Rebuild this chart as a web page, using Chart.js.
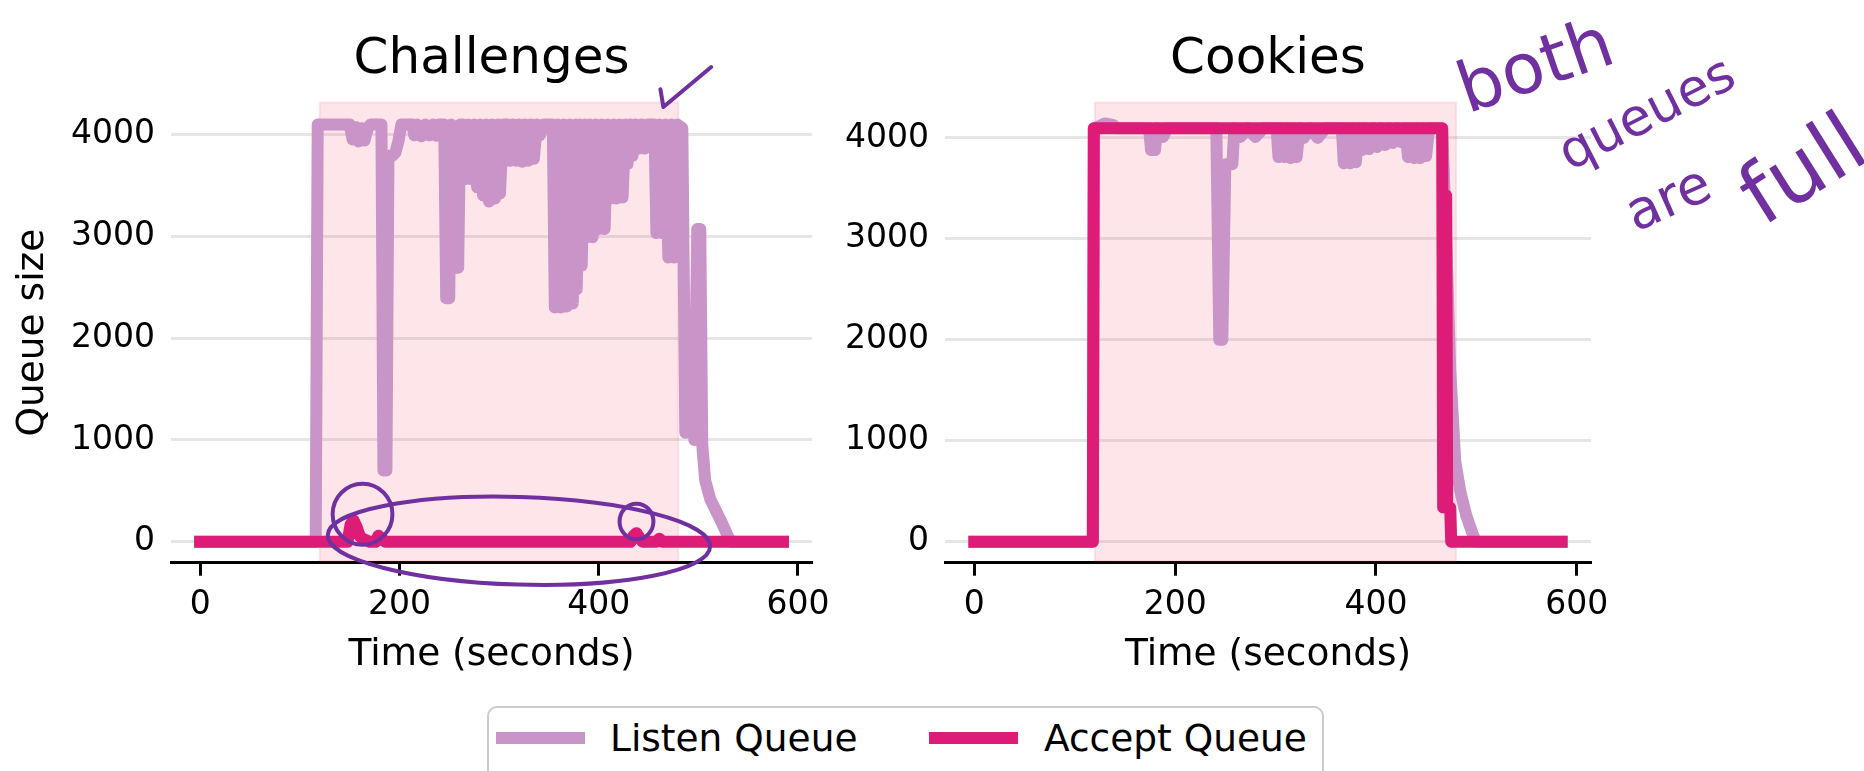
<!DOCTYPE html>
<html>
<head>
<meta charset="utf-8">
<script src="https://cdn.jsdelivr.net/npm/chart.js@4.4.1/dist/chart.umd.min.js"></script>
<style>
  html, body { margin: 0; padding: 0; background: #fff; overflow: hidden; }
  body { width: 1864px; height: 771px; position: relative; font-family: "DejaVu Sans", sans-serif; }
  canvas { position: absolute; top: 0; }
  #challenges { left: 0; }
  #cookies { left: 840px; }
  #legend { position: absolute; left: 487px; top: 706px; width: 833px; height: 100px;
            border: 2px solid #cccccc; border-radius: 10px; background: #fff; }
  .handle { position: absolute; top: 23.5px; height: 12px; }
  .label { position: absolute; top: 8px; font-size: 37.5px; line-height: 44px; color: #000; white-space: nowrap; }
  .ink { position: absolute; color: #7030a0; font-weight: 400; white-space: nowrap; line-height: 1; }
</style>
</head>
<body>
<canvas id="challenges" width="840" height="700"></canvas>
<canvas id="cookies" width="1024" height="700"></canvas>
<div id="legend"></div>

<div class="ink" style="left:1535px;top:65px;font-size:70px;transform:translate(-50%,-50%) rotate(-19deg)">both</div>
<div class="ink" style="left:1646px;top:112px;font-size:52px;transform:translate(-50%,-50%) rotate(-27deg)">queues</div>
<div class="ink" style="left:1668px;top:198px;font-size:54px;transform:translate(-50%,-50%) rotate(-24deg)">are</div>
<div class="ink" style="left:1802px;top:168px;font-size:84px;transform:translate(-50%,-50%) rotate(-32deg)">full</div>

<script>
const seriesLabels = ["Listen Queue", "Accept Queue"];
const seriesColors = ["#c994c7", "#dd1c77"];
const panelTitles = ["Challenges", "Cookies"];
const xTicks = [0, 200, 400, 600];
const yTicks = [0, 1000, 2000, 3000, 4000];
const attackWindow = [120, 480];

// [time, queue size]
const challengesListen = [
  [0,0],[116,0],[118,4096],[150,4096],[153,3950],[156,4070],[159,3930],[162,4060],[165,3940],[168,4050],
  [171,4096],[182,4096],[184,700],[187,700],[189,3790],[193,3790],[196,3820],[199,3930],[202,4096],[213,4096],
  [215,3990],[218,4096],[222,3980],[226,4096],[230,3990],[234,4096],[237,3985],[240,4096],[245,4096],[247,2390],
  [250,2390],[252,4096],[255,2690],[259,2690],[261,4096],[264,4096],[266,3560],[269,4096],[272,3560],[275,4096],
  [278,3480],[281,4096],[284,3400],[287,4096],[290,3340],[293,4096],[296,3370],[299,4096],[301,3420],[304,4096],
  [309,4096],[311,3740],[314,4096],[317,3740],[320,4096],[323,3730],[326,4096],[329,3740],[332,4096],[335,3760],
  [338,4096],[341,3990],[345,4096],[354,4096],[356,2300],[359,4096],[362,2300],[365,4096],[368,2310],[371,4096],
  [374,2340],[377,4096],[378,2480],[381,4096],[383,2710],[386,4096],[388,2990],[391,4096],[394,2990],[397,4096],
  [400,3070],[403,4096],[406,3070],[409,4096],[412,3370],[415,4096],[418,3370],[421,4096],[424,3380],[427,4096],
  [429,3710],[432,4096],[434,3790],[437,4096],[440,3860],[443,4096],[446,3860],[449,4096],[456,4096],[458,3030],
  [461,4096],[464,3030],[467,4096],[470,2790],[473,4096],[476,2790],[479,4096],[484,4060],[487,1070],[490,1150],
  [493,2000],[496,1000],[499,3070],[502,3070],[504,950],[507,600],[512,420],[518,300],[524,180],[530,50],
  [533,0],[585,0]
];
const challengesAccept = [
  [0,0],[148,0],[151,170],[154,210],[157,150],[160,60],[163,30],[170,0],[176,0],[179,60],[182,35],[186,0],
  [432,0],[435,60],[438,85],[441,40],[444,0],[458,0],[461,30],[464,0],[585,0]
];
const cookiesListen = [
  [0,0],[118,0],[119,4096],[125,4120],[130,4144],[138,4130],[142,4096],[174,4096],[176,3880],[180,3880],
  [182,4096],[188,4010],[192,4096],[241,4096],[244,2000],[247,2000],[250,3740],[257,3740],[259,4096],[265,4010],
  [272,4096],[280,4010],[288,4096],[301,4096],[303,3810],[306,4096],[309,3810],[312,4096],[315,3800],[318,4096],
  [321,3810],[324,4096],[328,4000],[335,4096],[342,4000],[350,4096],[366,4096],[368,3750],[371,4096],[374,3750],
  [377,4096],[380,3760],[383,4096],[386,3880],[389,4096],[393,3890],[397,4096],[401,3910],[405,4096],[409,3930],
  [413,4096],[417,3950],[421,4096],[425,3960],[429,4096],[432,3810],[435,4096],[438,3800],[441,4096],[444,3800],
  [447,4096],[450,3820],[453,4096],[466,4096],[470,3000],[474,1700],[479,800],[484,500],[490,260],[497,60],
  [500,0],[585,0]
];
const cookiesAccept = [
  [0,0],[118,0],[119,4096],[466,4096],[467,340],[470,3430],[471,340],[474,340],[475,0],[585,0]
];

// hand-drawn marks on the Challenges panel, in data units
const inkLoops = [
  { x: 320, y: 10, rx: 192, ry: 430, rot: 0.03 },
  { x: 163, y: 270, rx: 30, ry: 300, rot: 0 },
  { x: 438, y: 199, rx: 17, ry: 175, rot: 0 }
];
const inkCheck = [[462, 4443], [465, 4267], [513, 4660]];

Chart.defaults.font.family = "'DejaVu Sans', 'Liberation Sans', sans-serif";
Chart.defaults.color = "#000";

const toPoints = pairs => pairs.map(([x, y]) => ({ x, y }));

const attackSpan = {
  id: "attackSpan",
  beforeDatasetsDraw(chart) {
    const { ctx, chartArea: a, scales: { x } } = chart;
    const x0 = x.getPixelForValue(attackWindow[0]);
    const x1 = x.getPixelForValue(attackWindow[1]);
    ctx.save();
    ctx.fillStyle = "rgba(240, 40, 70, 0.12)";
    ctx.fillRect(x0, a.top, x1 - x0, a.bottom - a.top - 1.5);
    ctx.strokeStyle = "rgba(240, 40, 70, 0.10)";
    ctx.lineWidth = 2;
    ctx.strokeRect(x0, a.top, x1 - x0, a.bottom - a.top - 1.5);
    ctx.restore();
  }
};

const ink = {
  id: "ink",
  afterDraw(chart) {
    const { ctx, scales: { x, y } } = chart;
    ctx.save();
    ctx.strokeStyle = "#7030a0";
    ctx.lineWidth = 4;
    ctx.lineCap = "round";
    ctx.lineJoin = "round";
    inkLoops.forEach(l => {
      const cx = x.getPixelForValue(l.x), cy = y.getPixelForValue(l.y);
      const rx = Math.abs(x.getPixelForValue(l.x + l.rx) - cx);
      const ry = Math.abs(y.getPixelForValue(l.y + l.ry) - cy);
      ctx.beginPath();
      ctx.ellipse(cx, cy, rx, ry, l.rot, 0, Math.PI * 2);
      ctx.stroke();
    });
    ctx.beginPath();
    inkCheck.forEach(([vx, vy], i) => {
      const px = x.getPixelForValue(vx), py = y.getPixelForValue(vy);
      i ? ctx.lineTo(px, py) : ctx.moveTo(px, py);
    });
    ctx.stroke();
    ctx.restore();
  }
};

function makePanel(id, title, listen, accept, o) {
  return new Chart(document.getElementById(id), {
    type: "line",
    data: {
      datasets: [
        { label: seriesLabels[0], data: toPoints(listen), borderColor: seriesColors[0], order: 2 },
        { label: seriesLabels[1], data: toPoints(accept), borderColor: seriesColors[1], order: 1 },
      ]
    },
    options: {
      responsive: false,
      animation: false,
      events: [],
      layout: { padding: { left: 0, right: o.padRight, top: 0, bottom: 0 } },
      elements: {
        line: { borderWidth: 12, tension: 0, fill: false, borderJoinStyle: "round", borderCapStyle: "square" },
        point: { radius: 0 }
      },
      plugins: {
        legend: { display: false },
        tooltip: { enabled: false },
        title: {
          display: true, text: title, fullSize: false, color: "#000",
          font: { size: 50, weight: "normal" }, padding: { top: 30, bottom: 12.5 }
        }
      },
      scales: {
        x: {
          type: "linear", min: -29.25, max: 614.25,
          afterBuildTicks: s => { s.ticks = xTicks.map(v => ({ value: v })) },
          afterFit: s => { s.height = 137.3 },
          ticks: { font: { size: 33 }, color: "#000", padding: 10, maxRotation: 0, autoSkip: false, callback: v => String(v) },
          grid: { drawOnChartArea: false, drawTicks: true, tickLength: 13, tickWidth: 3, tickColor: "#000" },
          border: { display: true, color: "#000", width: 3 },
          title: { display: true, text: "Time (seconds)", color: "#000", font: { size: 37.5 }, padding: { top: 0, bottom: 22 } }
        },
        y: {
          min: o.yMin, max: o.yMax,
          afterBuildTicks: s => { s.ticks = yTicks.map(v => ({ value: v })) },
          afterFit: s => { s.width = o.yWidth },
          ticks: { font: { size: 33 }, color: "#000", padding: 16, callback: v => String(v) },
          grid: { color: "#e6e6e6", lineWidth: 3, drawTicks: false },
          border: { display: false },
          title: { display: !!o.yTitle, text: o.yTitle || "", color: "#000", font: { size: 37.5 }, padding: { top: 11, bottom: 0 } }
        }
      }
    },
    plugins: [attackSpan].concat(o.extra || [])
  });
}

makePanel("challenges", panelTitles[0], challengesListen, challengesAccept,
  { yMin: -205, yMax: 4312, yWidth: 171, padRight: 24, yTitle: "Queue size", extra: [ink] });
makePanel("cookies", panelTitles[1], cookiesListen, cookiesAccept,
  { yMin: -207, yMax: 4351, yWidth: 105, padRight: 273 });

// shared legend under both panels
const legend = document.getElementById("legend");
const legendPos = [{ handle: 7, text: 121 }, { handle: 440, text: 555 }];
seriesLabels.forEach((label, i) => {
  const h = document.createElement("div");
  h.className = "handle";
  h.style.left = legendPos[i].handle + "px";
  h.style.width = "89px";
  h.style.background = seriesColors[i];
  const t = document.createElement("div");
  t.className = "label";
  t.style.left = legendPos[i].text + "px";
  t.textContent = label;
  legend.appendChild(h);
  legend.appendChild(t);
});
</script>
</body>
</html>
